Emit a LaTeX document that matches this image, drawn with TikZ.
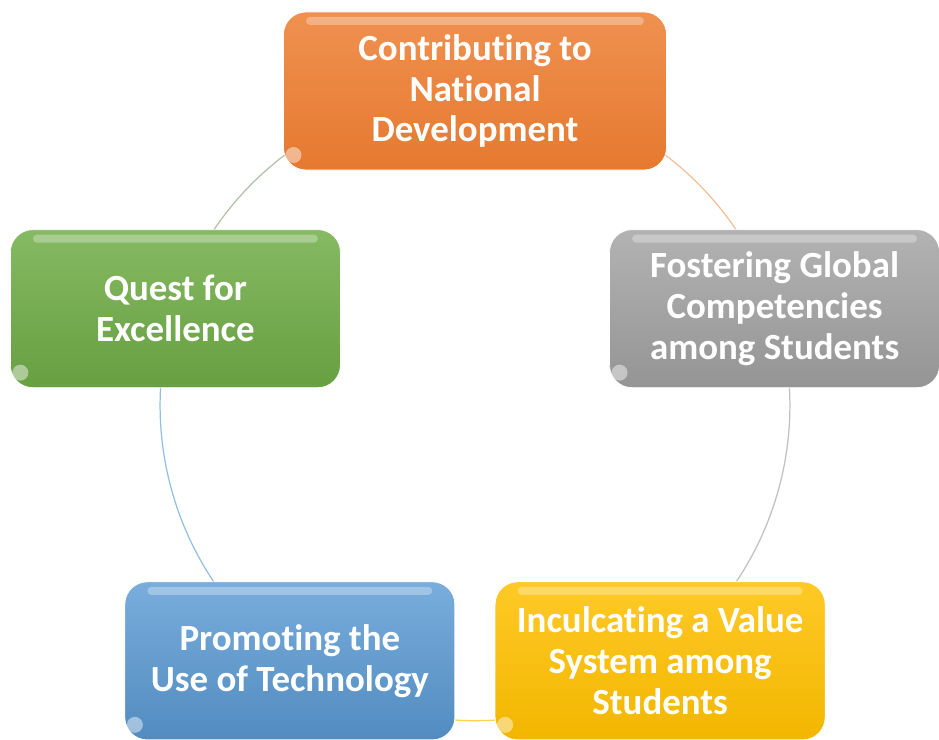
\documentclass[tikz,border=0pt]{standalone}
\usepackage{fontspec}
\setmainfont{Carlito}[Ligatures={NoCommon}]
\usetikzlibrary{positioning}

\definecolor{naranja}{HTML}{ED7D31}
\definecolor{gris}{HTML}{A5A5A5}
\definecolor{amarillo}{HTML}{FFC000}
\definecolor{azul}{HTML}{5B9BD5}
\definecolor{verde}{HTML}{70AD47}

\pgfdeclarelayer{bg}
\pgfsetlayers{bg,main}

\tikzset{
  box/.style={rounded corners=0.45cm, minimum width=6.6cm, minimum height=3.16cm,
    align=center, text=white, font=\fontsize{21}{23.3}\selectfont\bfseries,
    draw=white, line width=0.4pt,
    path picture={
      \fill[white, opacity=0.3, rounded corners=0.08cm]
        ([xshift=0.45cm,yshift=-0.1cm]path picture bounding box.north west)
        rectangle ([xshift=-0.45cm,yshift=-0.26cm]path picture bounding box.north east);
      \fill[white, opacity=0.45]
        ([xshift=0.2cm,yshift=0.3cm]path picture bounding box.south west) circle (0.16cm);
    }},
  arc/.style={line width=0.7pt, bend left=36, looseness=0.94}
}

\begin{document}
\begin{tikzpicture}
\useasboundingbox (-9.5,-6.68) rectangle (9.28,8.12);

% cajas en el circulo
\node[box, minimum width=7.66cm, top color=naranja!85!white, bottom color=naranja!97!black] (desarrollo) at (90:6.3)
  {Contributing to\\National\\Development};
\node[box, top color=gris!85!white, bottom color=gris!90!black] (global) at (18:6.3)
  {Fostering Global\\Competencies\\among Students};
\node[box, top color=amarillo!85!white, bottom color=amarillo!95!black] (valores) at (-54:6.3)
  {Inculcating a Value\\System among\\Students};
\node[box, top color=azul!82!white, bottom color=azul!90!black] (tecnologia) at (-126:6.3)
  {Promoting the\\Use of Technology};
\node[box, top color=verde!85!white, bottom color=verde!92!black] (excelencia) at (162:6.3)
  {Quest for\\Excellence};

% arcos entre cajas
\begin{pgfonlayer}{bg}
\draw[arc, draw=naranja!50!white] (desarrollo.center) to (global.center);
\draw[arc, draw=gris!70!white] (global.center) to (valores.center);
\draw[arc, draw=amarillo!70!white] (valores.center) to (tecnologia.center);
\draw[arc, draw=azul!65!white] (tecnologia.center) to (excelencia.center);
\draw[arc, draw=verde!40!gris!70!white] (excelencia.center) to (desarrollo.center);
\end{pgfonlayer}
\end{tikzpicture}
\end{document}
